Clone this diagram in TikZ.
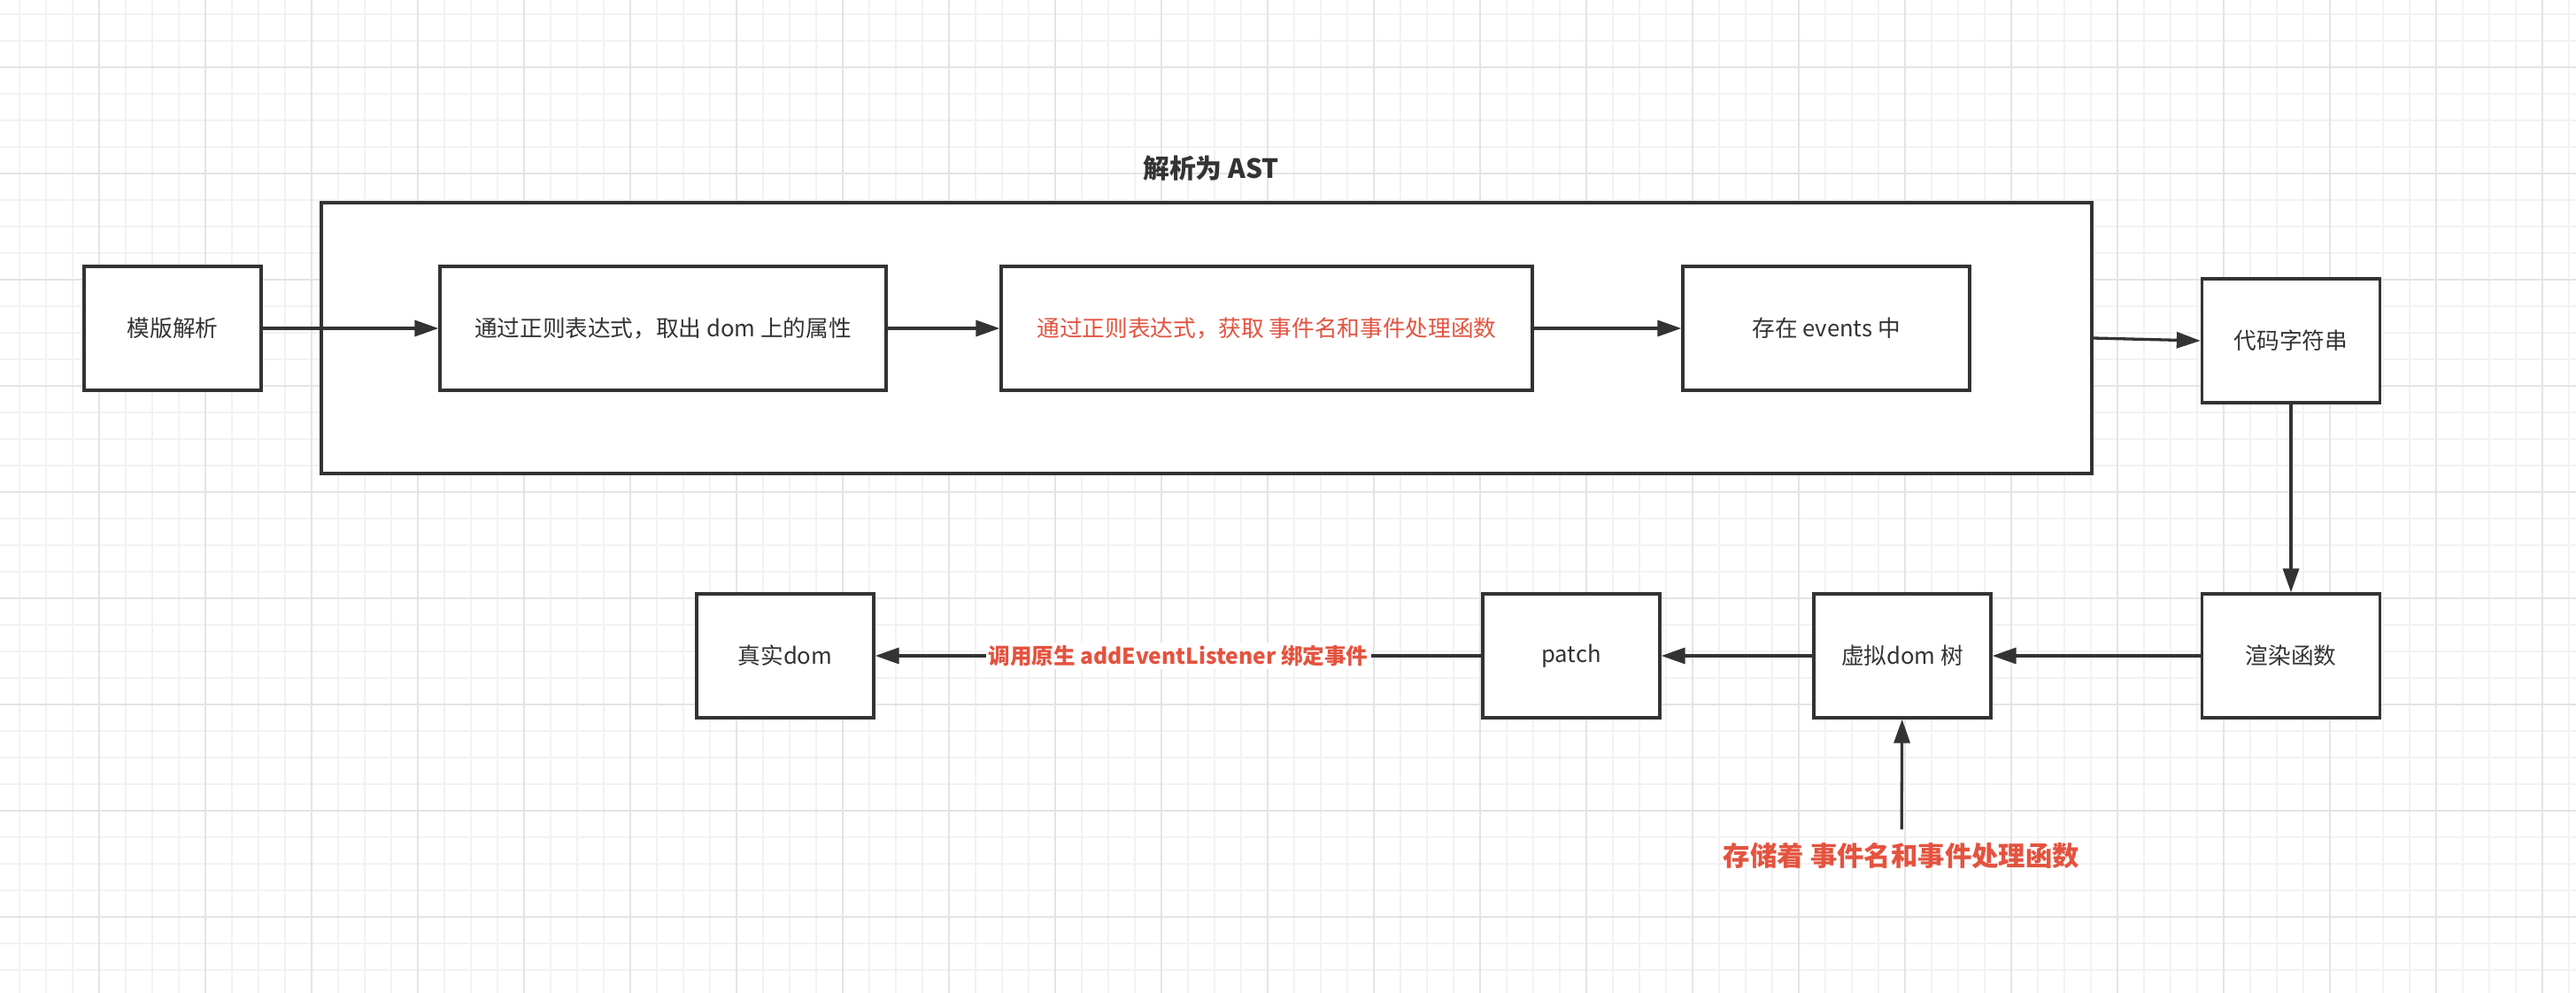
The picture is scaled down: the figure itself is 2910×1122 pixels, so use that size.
\documentclass[tikz,border=0pt]{standalone}
\usepackage{fontspec}
\setmainfont{Noto Sans CJK SC}
\usetikzlibrary{arrows.meta}
\definecolor{ink}{HTML}{333333}
\definecolor{hot}{HTML}{E4533F}
\definecolor{gridminor}{HTML}{F2F2F2}
\definecolor{gridmajor}{HTML}{E4E4E4}

\begin{document}
\begin{tikzpicture}[x=0.1mm,y=-0.1mm]
    \tikzstyle{block}=[draw=ink,line width=0.33mm,fill=white,text=ink,inner sep=0pt,minimum height=14mm,font=\fontsize{7.3}{9}\selectfont]
    \tikzstyle{group}=[draw=ink,line width=0.33mm,fill=white,inner sep=0pt,minimum width=200mm,minimum height=30.6mm]
    \tikzstyle{link}=[draw=ink,line width=0.33mm,-{Triangle[length=2.7mm,width=1.8mm]}]
    \tikzstyle{note}=[text=hot,inner sep=0.3mm,font=\bfseries\fontsize{7}{9}\selectfont]

    \fill[white] (0,0) rectangle (2910,1122);
    \useasboundingbox (0,0) rectangle (2910,1122);

    % background grid
    \foreach \gx in {22,52,...,2910} \draw[gridminor,line width=0.2mm] (\gx,0) -- (\gx,1122);
    \foreach \gy in {16,46,...,1122} \draw[gridminor,line width=0.2mm] (0,\gy) -- (2910,\gy);
    \foreach \gx in {112,232,...,2910} \draw[gridmajor,line width=0.22mm] (\gx,0) -- (\gx,1122);
    \foreach \gy in {76,196,...,1122} \draw[gridmajor,line width=0.22mm] (0,\gy) -- (2910,\gy);

    % parsing stage
    \node[group] at (1363,382) (ast) {};
    \node[text=ink,font=\bfseries\fontsize{8.5}{10}\selectfont] at (1368,190) (asttitle) {解析为 AST};
    \node[block,minimum width=20mm] at (195,371) (tpl) {模版解析};
    \node[block,minimum width=50.4mm] at (749,371) (attr) {通过正则表达式，取出 dom 上的属性};
    \node[block,minimum width=60mm,text=hot] at (1431,371) (evt) {通过正则表达式，获取 事件名和事件处理函数};
    \node[block,minimum width=32.4mm] at (2063,371) (store) {存在 events 中};

    % generation and rendering
    \node[block,minimum width=20.1mm] at (2588,385) (code) {代码字符串};
    \node[block,minimum width=20.1mm] at (2588,741) (render) {渲染函数};
    \node[block,minimum width=20mm] at (2149,741) (vdom) {虚拟dom 树};
    \node[block,minimum width=20mm] at (1775,741) (patch) {patch};
    \node[block,minimum width=20mm] at (887,741) (real) {真实dom};
    \node[note,inner sep=1.45mm,font=\bfseries\fontsize{8.65}{10}\selectfont] at (2148,967) (held) {存储着 事件名和事件处理函数};

    \draw[link] (tpl) -- (attr);
    \draw[link] (attr) -- (evt);
    \draw[link] (evt) -- (store);
    \draw[link] (ast.east) -- (code.west);
    \draw[link] (code) -- (render);
    \draw[link] (render) -- (vdom);
    \draw[link] (vdom) -- (patch);
    \draw[link] (patch) -- (real) node[note,midway,fill=white] {调用原生 addEventListener 绑定事件};
    \draw[link] (held) -- (vdom);
\end{tikzpicture}
\end{document}
